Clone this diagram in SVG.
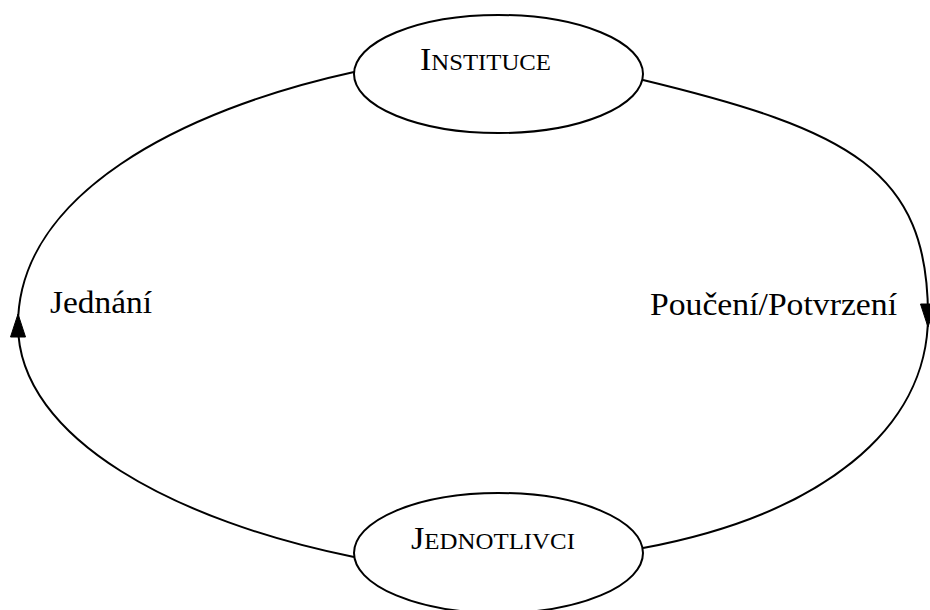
<svg xmlns="http://www.w3.org/2000/svg" width="930" height="610" viewBox="0 0 930 610">
<style>
.node ellipse{fill:#fff;stroke:#000;stroke-width:2}
.edge{fill:none;stroke:#000;stroke-width:2;marker-mid:url(#arr)}
text{font-family:"Liberation Serif","Times New Roman",serif;fill:#000}
.lbl{font-size:31px}
.cap{font-size:31px}
.sc{font-size:22.5px}
</style>
<defs>
<marker id="arr" markerUnits="userSpaceOnUse" orient="auto" refX="0" refY="0" markerWidth="30" markerHeight="30" overflow="visible">
<path d="M-12,-7.5 L11,0 L-12,7.5 z" fill="#000" stroke="#000" stroke-width="1"/>
</marker>
</defs>
<rect width="930" height="610" fill="#fff"/>
<g id="connectors">
<path id="e-jednani" class="edge" d="M354,557 C180,522 18,440 18,325 C18,195 180,110 354,72"/>
<path id="e-pouceni" class="edge" d="M643,80 C850,130 928,170 928,316 C928,430 820,515 643,548"/>
</g>
<g id="label-jednani"><text class="lbl" x="50" y="313" textLength="102" lengthAdjust="spacingAndGlyphs">Jednání</text></g>
<g id="label-pouceni"><text class="lbl" x="650" y="315" textLength="247" lengthAdjust="spacingAndGlyphs">Poučení/Potvrzení</text></g>
<g id="instituce" class="node">
<ellipse cx="498.5" cy="74" rx="144.5" ry="59"/>
<text x="420" y="70" textLength="131" lengthAdjust="spacingAndGlyphs"><tspan class="cap">I</tspan><tspan class="sc">NSTITUCE</tspan></text>
</g>
<g id="jednotlivci" class="node">
<ellipse cx="498.5" cy="553" rx="144.5" ry="60"/>
<text x="411" y="549" textLength="164" lengthAdjust="spacingAndGlyphs"><tspan class="cap">J</tspan><tspan class="sc">EDNOTLIVCI</tspan></text>
</g>
</svg>
